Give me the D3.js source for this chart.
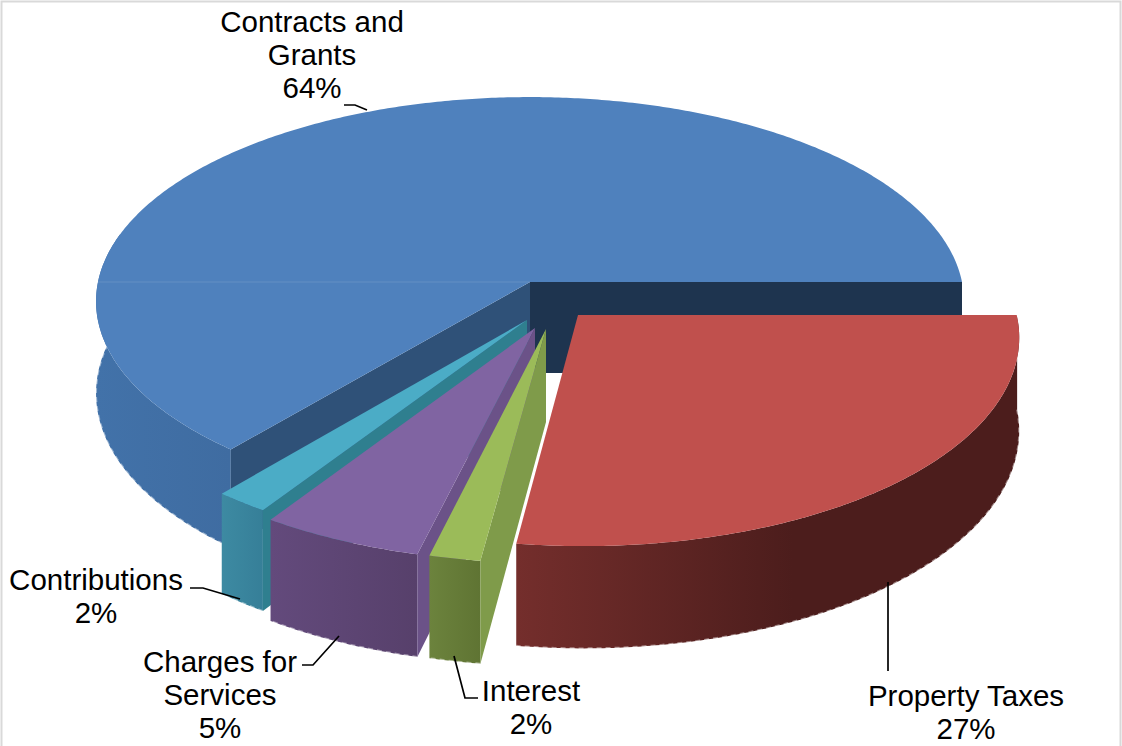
<!DOCTYPE html>
<html>
<head>
<meta charset="utf-8">
<script src="https://cdn.jsdelivr.net/npm/d3@7"></script>
<style>
    html, body { margin: 0; padding: 0; background: #ffffff; overflow: hidden; }
    text { font-family: "Liberation Sans", Arial, sans-serif; font-size: 29.5px; fill: #000000; }
</style>
</head>
<body>
<div id="canvas"></div>
<script>
    /* Data, in the order the slices run clockwise from 3 o'clock */
    const categories = ['Property Taxes', 'Interest', 'Charges for Services', 'Contributions', 'Contracts and Grants'];
    const values = [27.2, 1.7, 5.4, 1.8, 63.9];
    const labelLines = [
        ['Property Taxes', '27%'],
        ['Interest', '2%'],
        ['Charges for', 'Services', '5%'],
        ['Contributions', '2%'],
        ['Contracts and', 'Grants', '64%']
    ];

    /* Configuration */
    const config = {
        width: 1122,
        height: 746,
        cx: 530,
        cy: 282,
        radiusX: 432,
        radiusY: 202.5,
        perspective: 0.095,
        depth: 91
    };

    const sliceStyle = [
        { top: '#c0504d', wall: ['#742e2c', '#4c1d1c'], wallStop: 0.55, startWall: '#742e2c', endWall: '#4c1d1c', shift: [48, 33] },
        { top: '#9bbb59', wall: ['#6c833d', '#5f7433'], wallStop: 1, startWall: '#7f9b4a', endWall: '#5f7433', shift: [16, 47] },
        { top: '#8064a2', wall: ['#634a7c', '#57406b'], wallStop: 1, startWall: '#6b5288', endWall: '#57406b', shift: [5, 46] },
        { top: '#4bacc6', wall: ['#3d8aa2', '#367f98'], wallStop: 1, startWall: '#2f7f8f', endWall: '#367f98', shift: [-3, 38] },
        { top: '#4f81bd', wall: ['#4272a9', '#3f6ca1'], wallStop: 1, startWall: '#2f5178', endWall: '#1e344f', shift: [0, 0] }
    ];

    const labelPlace = [
        { x: 966, y: 706 },
        { x: 531, y: 701 },
        { x: 220, y: 672 },
        { x: 96, y: 590 },
        { x: 312, y: 32 }
    ];

    const leaderLines = [
        [[888, 582], [888, 671]],
        [[454, 656], [465, 698], [478, 698]],
        [[339, 636], [313, 665], [302, 665]],
        [[240, 599], [203, 588], [190, 588]],
        [[367, 110], [355, 105], [344, 105]]
    ];

    const lineSpacing = 33;

    /* Projection of the tilted pie plane, nearer points get larger */
    function project(x, z, drop) {
        const w = 1 / (1 - config.perspective * z);
        return [
            config.cx + config.radiusX * x * w,
            config.cy + config.radiusY * z * w + drop * config.depth * w
        ];
    }

    function unproject(dx, dy) {
        const z = dy / (config.radiusY + config.perspective * dy);
        const w = 1 / (1 - config.perspective * z);
        return [dx / (config.radiusX * w), z];
    }

    const svg = d3.select('#canvas').append('svg')
        .attr('width', config.width)
        .attr('height', config.height);

    svg.append('rect')
        .attr('x', 1.5)
        .attr('y', 1.5)
        .attr('width', config.width - 3)
        .attr('height', config.height + 10)
        .attr('fill', '#ffffff')
        .attr('stroke', '#d9d9d9')
        .attr('stroke-width', 2);

    const defs = svg.append('defs');
    const line = d3.line();

    const slices = d3.pie()
        .sort(null)
        .startAngle(Math.PI / 2)
        .endAngle(Math.PI / 2 + 2 * Math.PI)(values);

    /* Painter's order: the big slice at the back first, red last */
    const drawOrder = [4, 3, 2, 1, 0];

    drawOrder.forEach(i => {
        const slice = slices[i];
        const style = sliceStyle[i];
        const g = svg.append('g').attr('class', 'slice').attr('data-name', categories[i]);
        const [ox, oz] = unproject(style.shift[0], style.shift[1]);

        const steps = Math.max(4, Math.ceil((slice.endAngle - slice.startAngle) / 0.01));
        const angles = d3.range(steps + 1).map(k =>
            slice.startAngle + (slice.endAngle - slice.startAngle) * k / steps);
        const rim = a => [ox + Math.sin(a), oz - Math.cos(a)];
        const at = (a, drop) => {
            const p = rim(a);
            return project(p[0], p[1], drop);
        };
        const apexTop = project(ox, oz, 0);
        const apexBottom = project(ox, oz, 1);

        /* Outer wall: the front of the rim, plus a bit past the left extreme for the silhouette */
        const front = angles.filter(a => -Math.cos(a) >= 0 || (Math.sin(a) < 0 && -Math.cos(a) >= -0.25));
        if (front.length > 1) {
            const wallPoints = front.map(a => at(a, 0)).concat(front.slice().reverse().map(a => at(a, 1)));
            const xs = d3.extent(wallPoints, d => d[0]);
            const gradId = 'wall-' + i;
            const grad = defs.append('linearGradient')
                .attr('id', gradId)
                .attr('gradientUnits', 'userSpaceOnUse')
                .attr('x1', xs[0]).attr('x2', xs[1])
                .attr('y1', 0).attr('y2', 0);
            grad.append('stop').attr('offset', 0).attr('stop-color', style.wall[0]);
            grad.append('stop').attr('offset', style.wallStop).attr('stop-color', style.wall[1]);

            g.append('path')
                .attr('d', line(wallPoints) + 'Z')
                .attr('fill', 'url(#' + gradId + ')');

            /* Pale broken fringe along the bottom edge of the wall */
            g.append('path')
                .attr('d', line(front.map(a => at(a, 1))))
                .attr('fill', 'none')
                .attr('stroke', '#ffffff')
                .attr('stroke-opacity', 0.45)
                .attr('stroke-width', 2)
                .attr('stroke-dasharray', '5 4');
        }

        /* Radial walls, visible only where the top surface lies above the edge */
        if (Math.sin(slice.startAngle - Math.PI / 2) > 0) {
            g.append('path')
                .attr('d', line([apexTop, at(slice.startAngle, 0), at(slice.startAngle, 1), apexBottom]) + 'Z')
                .attr('fill', style.startWall);
        }
        if (slice.endAngle - Math.PI / 2 > Math.PI) {
            g.append('path')
                .attr('d', line([apexTop, at(slice.endAngle, 0), at(slice.endAngle, 1), apexBottom]) + 'Z')
                .attr('fill', style.endWall);
        }

        /* Top surface */
        g.append('path')
            .attr('d', line([apexTop].concat(angles.map(a => at(a, 0)))) + 'Z')
            .attr('fill', style.top);

        /* Faint seam across the left half of the big slice */
        if (slice.endAngle - slice.startAngle > Math.PI) {
            g.append('path')
                .attr('d', line([apexTop, project(ox - 1, oz, 0)]))
                .attr('stroke', '#ffffff')
                .attr('stroke-opacity', 0.12)
                .attr('stroke-width', 1);
        }
    });

    /* Leader lines */
    svg.append('g')
        .selectAll('path')
        .data(leaderLines)
        .join('path')
        .attr('d', d => line(d))
        .attr('fill', 'none')
        .attr('stroke', '#000000')
        .attr('stroke-width', 1.7);

    /* Data labels */
    const labels = svg.append('g')
        .selectAll('text')
        .data(labelLines)
        .join('text')
        .attr('text-anchor', 'middle')
        .attr('x', (d, i) => labelPlace[i].x)
        .attr('y', (d, i) => labelPlace[i].y);

    labels.selectAll('tspan')
        .data(d => d)
        .join('tspan')
        .attr('x', function() { return this.parentNode.getAttribute('x'); })
        .attr('dy', (d, k) => k === 0 ? 0 : lineSpacing)
        .text(d => d);
</script>
</body>
</html>
